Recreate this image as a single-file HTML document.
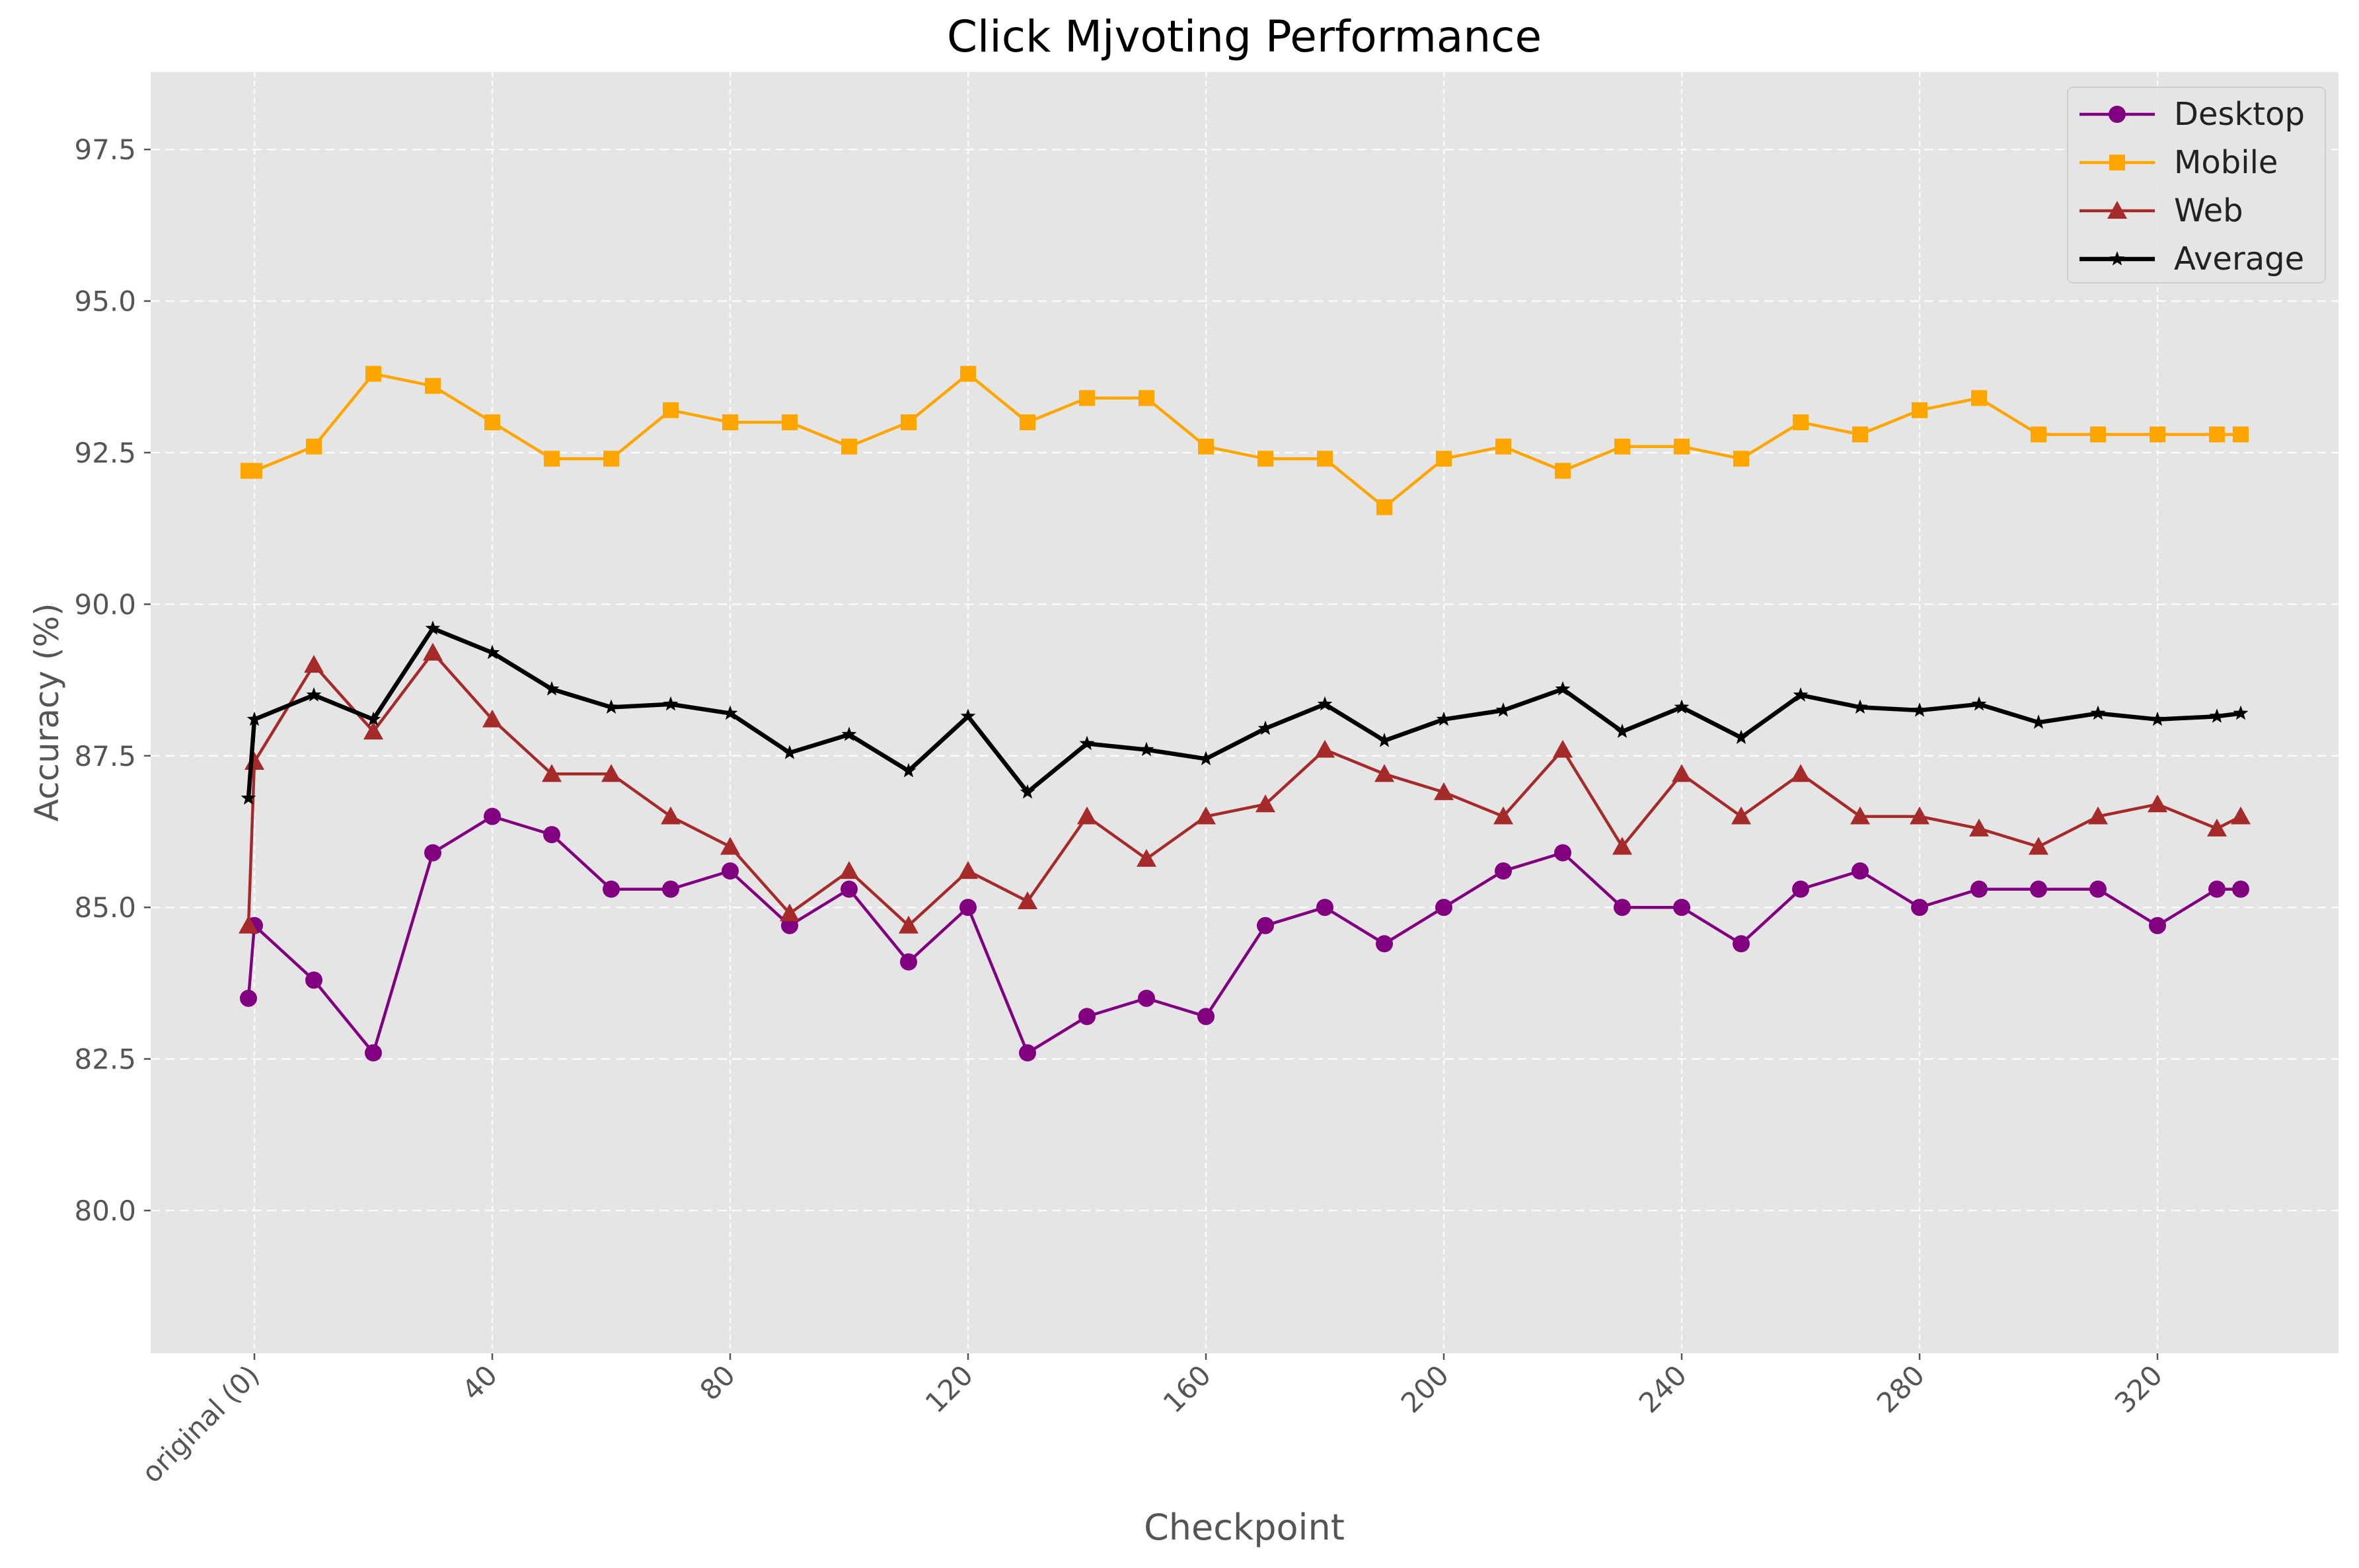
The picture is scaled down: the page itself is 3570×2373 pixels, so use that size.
<!DOCTYPE html>
<html><head><meta charset="utf-8"><style>
html,body{margin:0;padding:0;background:#fff;}
svg{display:block;font-family:"DejaVu Sans","Liberation Sans",sans-serif;}
</style></head><body>
<svg id="chart" width="3570" height="2373" xmlns="http://www.w3.org/2000/svg">
<rect x="228" y="109" width="3311" height="1939" fill="#e5e5e5"/>
<g id="grid"></g>
<g id="axes"></g>
<g id="series"></g>
<text x="1883" y="78" font-size="66" text-anchor="middle" fill="#000">Click Mjvoting Performance</text>
<text x="1883" y="2330" font-size="54" text-anchor="middle" fill="#555">Checkpoint</text>
<text transform="translate(88,1078) rotate(-90)" font-size="50" text-anchor="middle" fill="#555">Accuracy (%)</text>
<g id="legend"></g>
</svg>
<script>
const xs = [-1,0,10,20,30,40,50,60,70,80,90,100,110,120,130,140,150,160,170,180,190,200,210,220,230,240,250,260,270,280,290,300,310,320,330,334];
const desktop = [83.5,84.7,83.8,82.6,85.9,86.5,86.2,85.3,85.3,85.6,84.7,85.3,84.1,85.0,82.6,83.2,83.5,83.2,84.7,85.0,84.4,85.0,85.6,85.9,85.0,85.0,84.4,85.3,85.6,85.0,85.3,85.3,85.3,84.7,85.3,85.3];
const mobile = [92.2,92.2,92.6,93.8,93.6,93.0,92.4,92.4,93.2,93.0,93.0,92.6,93.0,93.8,93.0,93.4,93.4,92.6,92.4,92.4,91.6,92.4,92.6,92.2,92.6,92.6,92.4,93.0,92.8,93.2,93.4,92.8,92.8,92.8,92.8,92.8];
const web = [84.7,87.4,89.0,87.9,89.2,88.1,87.2,87.2,86.5,86.0,84.9,85.6,84.7,85.6,85.1,86.5,85.8,86.5,86.7,87.6,87.2,86.9,86.5,87.6,86.0,87.2,86.5,87.2,86.5,86.5,86.3,86.0,86.5,86.7,86.3,86.5];
const average = [86.8,88.1,88.5,88.1,89.6,89.2,88.6,88.3,88.35,88.2,87.55,87.85,87.25,88.15,86.9,87.7,87.6,87.45,87.95,88.35,87.75,88.1,88.25,88.6,87.9,88.3,87.8,88.5,88.3,88.25,88.35,88.05,88.2,88.1,88.15,88.2];
const xTickVals = [0,40,80,120,160,200,240,280,320];
const xTickLabels = ["original (0)","40","80","120","160","200","240","280","320"];
const yTickVals = [80.0,82.5,85.0,87.5,90.0,92.5,95.0,97.5];
const seriesNames = ["Desktop","Mobile","Web","Average"];

const NS="http://www.w3.org/2000/svg";
const X0=228,X1=3539,Y0=109,Y1=2048;
function sx(v){return 385+(v-0)*9.0;}
function sy(v){return 1832-(v-80)*91.76;}
function mk(tag,attrs,parent){const e=document.createElementNS(NS,tag);for(const k in attrs)e.setAttribute(k,attrs[k]);parent.appendChild(e);return e;}
const grid=document.getElementById('grid'),axes=document.getElementById('axes'),ser=document.getElementById('series'),leg=document.getElementById('legend');

yTickVals.forEach(v=>{
  const y=sy(v);
  const g=mk('line',{x1:X0,x2:X1,y1:y,y2:y,stroke:'#fff','stroke-width':2.5,'stroke-dasharray':'14,8',opacity:0.85},grid);
  
  
  const t=mk('line',{x1:X0-10,x2:X0,y1:y,y2:y,stroke:'#555','stroke-width':2.5},axes);
  
  
  const l=mk('text',{x:X0-22,y:y+15,'font-size':42,'text-anchor':'end',fill:'#555'},axes);
  l.textContent=v.toFixed(1);
  
  
});
xTickVals.forEach((v,i)=>{
  const x=sx(v);
  const g=mk('line',{x1:x,x2:x,y1:Y0,y2:Y1,stroke:'#fff','stroke-width':2.5,'stroke-dasharray':'8,5',opacity:0.85},grid);
  
  
  const t=mk('line',{x1:x,x2:x,y1:Y1,y2:Y1+10,stroke:'#555','stroke-width':2.5},axes);
  
  
  const l=mk('text',{transform:`translate(${x+10},${Y1+36}) rotate(-45)`,'font-size':42,'text-anchor':'end',fill:'#555'},axes);
  l.textContent=xTickLabels[i];
  
  
});

function marker(type,x,y,color,parent,s){
  let e;
  if(type==='circle'){e=mk('circle',{cx:x,cy:y,r:13*s,fill:color},parent);}
  else if(type==='square'){const h=12*s;e=mk('rect',{x:x-h,y:y-h,width:2*h,height:2*h,fill:color},parent);}
  else if(type==='triangle'){const h=15*s;e=mk('polygon',{points:`${x},${y-h} ${x+h},${y+h*0.8} ${x-h},${y+h*0.8}`,fill:color},parent);}
  else {let p=[];for(let k=0;k<10;k++){const r=k%2?5*s:12*s;const a=-Math.PI/2+k*Math.PI/5;p.push((x+r*Math.cos(a)).toFixed(1)+','+(y+r*Math.sin(a)).toFixed(1));}
    e=mk('polygon',{points:p.join(' '),fill:color},parent);}
  return e;
}
const defs=[[desktop,'#800080','circle',4.5],[mobile,'#ffa500','square',4.5],[web,'#a52a2a','triangle',4.5],[average,'#000','star',6.5]];
defs.forEach((d,si)=>{
  const [vals,color,m,w]=d;
  const g=mk('g',{},ser);
  
  
  const pts=vals.map((v,i)=>sx(xs[i]).toFixed(1)+','+sy(v).toFixed(1)).join(' ');
  const pl=mk('polyline',{points:pts,fill:'none',stroke:color,'stroke-width':w,'stroke-linejoin':'round'},g);
  
  
  vals.forEach((v,i)=>{
    const e=marker(m,sx(xs[i]),sy(v),color,g,1);
    
    
  });
});
// legend
const box=mk('rect',{x:3129,y:132,width:390,height:296,rx:8,fill:'#e5e5e5',stroke:'#ccc','stroke-width':2,opacity:0.9},leg);


const legY=[173,246,319,392];
defs.forEach((d,si)=>{
  const g=mk('g',{},leg);
  
  
  mk('line',{x1:3147,x2:3261,y1:legY[si],y2:legY[si],stroke:d[1],'stroke-width':d[3]},g);
  marker(d[2],3204,legY[si],d[1],g,1);
  const t=mk('text',{x:3290,y:legY[si]+16,'font-size':48,fill:'#222'},g);
  t.textContent=seriesNames[si];
});
</script>
</body></html>
